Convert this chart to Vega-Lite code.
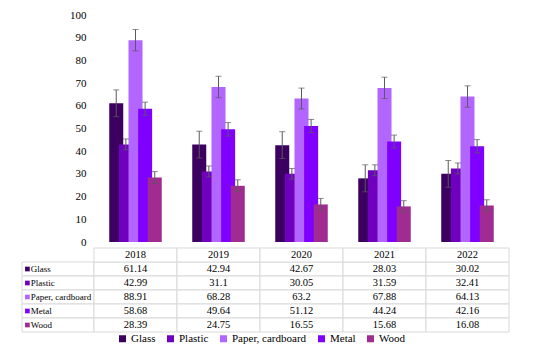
{
  "$schema": "https://vega.github.io/schema/vega-lite/v6.json",
  "padding": {"left": 21, "top": 9, "right": 5, "bottom": 5},
  "background": "white",
  "config": {
    "view": {"stroke": null},
    "font": "Times New Roman, Liberation Serif, serif",
    "legend": {"labelFont": "Times New Roman, Liberation Serif, serif"},
    "axis": {"labelFont": "Times New Roman, Liberation Serif, serif"},
    "text": {"font": "Times New Roman, Liberation Serif, serif"}
  },
  "datasets": {
    "main": [
      {"year": "2018", "material": "Glass", "value": 61.14, "lo": 55.2, "hi": 67.0},
      {"year": "2018", "material": "Plastic", "value": 42.99, "lo": 40.6, "hi": 45.4},
      {"year": "2018", "material": "Paper, cardboard", "value": 88.91, "lo": 84.2, "hi": 93.6},
      {"year": "2018", "material": "Metal", "value": 58.68, "lo": 55.8, "hi": 61.6},
      {"year": "2018", "material": "Wood", "value": 28.39, "lo": 25.8, "hi": 31.0},
      {"year": "2019", "material": "Glass", "value": 42.94, "lo": 37.0, "hi": 48.8},
      {"year": "2019", "material": "Plastic", "value": 31.1, "lo": 28.7, "hi": 33.5},
      {"year": "2019", "material": "Paper, cardboard", "value": 68.28, "lo": 63.6, "hi": 73.0},
      {"year": "2019", "material": "Metal", "value": 49.64, "lo": 46.7, "hi": 52.6},
      {"year": "2019", "material": "Wood", "value": 24.75, "lo": 22.2, "hi": 27.4},
      {"year": "2020", "material": "Glass", "value": 42.67, "lo": 36.8, "hi": 48.6},
      {"year": "2020", "material": "Plastic", "value": 30.05, "lo": 27.7, "hi": 32.4},
      {"year": "2020", "material": "Paper, cardboard", "value": 63.2, "lo": 58.6, "hi": 67.8},
      {"year": "2020", "material": "Metal", "value": 51.12, "lo": 48.2, "hi": 54.0},
      {"year": "2020", "material": "Wood", "value": 16.55, "lo": 13.9, "hi": 19.2},
      {"year": "2021", "material": "Glass", "value": 28.03, "lo": 22.1, "hi": 34.0},
      {"year": "2021", "material": "Plastic", "value": 31.59, "lo": 29.2, "hi": 34.0},
      {"year": "2021", "material": "Paper, cardboard", "value": 67.88, "lo": 63.2, "hi": 72.6},
      {"year": "2021", "material": "Metal", "value": 44.24, "lo": 41.4, "hi": 47.1},
      {"year": "2021", "material": "Wood", "value": 15.68, "lo": 13.2, "hi": 18.2},
      {"year": "2022", "material": "Glass", "value": 30.02, "lo": 24.1, "hi": 35.9},
      {"year": "2022", "material": "Plastic", "value": 32.41, "lo": 30.0, "hi": 34.8},
      {"year": "2022", "material": "Paper, cardboard", "value": 64.13, "lo": 59.4, "hi": 68.8},
      {"year": "2022", "material": "Metal", "value": 42.16, "lo": 39.3, "hi": 45.1},
      {"year": "2022", "material": "Wood", "value": 16.08, "lo": 13.6, "hi": 18.6}
    ]
  },
  "vconcat": [
    {
      "hconcat": [
        {
          "width": 72,
          "height": 227,
          "data": {"values": []},
          "mark": {"type": "point"},
          "encoding": {}
        },
        {
          "width": 415,
          "height": 227,
          "data": {"name": "main"},
          "encoding": {
            "x": {"field": "year", "type": "nominal", "axis": null,
                  "scale": {"paddingInner": 0.42, "paddingOuter": 0.21}},
            "xOffset": {"field": "material", "type": "nominal",
                        "sort": ["Glass", "Plastic", "Paper, cardboard", "Metal", "Wood"],
                        "scale": {"paddingInner": 0, "paddingOuter": 0}}
          },
          "layer": [
            {
              "mark": {"type": "bar", "width": 14},
              "encoding": {
                "y": {"field": "value", "type": "quantitative",
                      "scale": {"domain": [0, 100], "nice": false},
                      "axis": {"title": null, "values": [0, 10, 20, 30, 40, 50, 60, 70, 80, 90, 100],
                               "domain": false, "ticks": false, "grid": false, "labelOverlap": false,
                               "labelFontSize": 11, "labelColor": "#000", "labelPadding": 8}},
                "color": {"field": "material", "type": "nominal",
                          "scale": {"domain": ["Glass", "Plastic", "Paper, cardboard", "Metal", "Wood"],
                                    "range": ["#3c0060", "#6e00be", "#b266ff", "#8000ff", "#a02c92"]},
                          "legend": {"title": null, "orient": "none", "direction": "horizontal",
                                     "legendX": 95, "legendY": 318,
                                     "symbolType": "square", "symbolSize": 49,
                                     "symbolStrokeWidth": 0, "symbolOpacity": 1,
                                     "labelFontSize": 11, "labelColor": "#000",
                                     "columnPadding": 9, "labelOffset": 3}}
              }
            },
            {
              "mark": {"type": "rule", "color": "#5a5a5a", "strokeWidth": 1},
              "encoding": {
                "y": {"field": "lo", "type": "quantitative",
                      "axis": {"title": null, "values": [0, 10, 20, 30, 40, 50, 60, 70, 80, 90, 100],
                               "domain": false, "ticks": false, "grid": false, "labelOverlap": false,
                               "labelFontSize": 11, "labelColor": "#000", "labelPadding": 8}},
                "y2": {"field": "hi"}
              }
            },
            {
              "mark": {"type": "tick", "orient": "horizontal", "size": 6, "thickness": 1, "color": "#5a5a5a"},
              "encoding": {"y": {"field": "lo", "type": "quantitative",
                      "axis": {"title": null, "values": [0, 10, 20, 30, 40, 50, 60, 70, 80, 90, 100],
                               "domain": false, "ticks": false, "grid": false, "labelOverlap": false,
                               "labelFontSize": 11, "labelColor": "#000", "labelPadding": 8}}}
            },
            {
              "mark": {"type": "tick", "orient": "horizontal", "size": 6, "thickness": 1, "color": "#5a5a5a"},
              "encoding": {"y": {"field": "hi", "type": "quantitative",
                      "axis": {"title": null, "values": [0, 10, 20, 30, 40, 50, 60, 70, 80, 90, 100],
                               "domain": false, "ticks": false, "grid": false, "labelOverlap": false,
                               "labelFontSize": 11, "labelColor": "#000", "labelPadding": 8}}}
            }
          ]
        }
      ],
      "spacing": 0,
      "bounds": "flush",
      "resolve": {"scale": {"x": "independent", "y": "independent"}}
    },
    {
      "hconcat": [
        {
          "width": 72,
          "height": 84,
          "data": {"name": "main"},
          "transform": [{"filter": "datum.year == '2018'"}],
          "encoding": {
            "y": {"field": "material", "type": "nominal", "axis": null,
                  "scale": {"domain": ["Year", "Glass", "Plastic", "Paper, cardboard", "Metal", "Wood"],
                            "paddingInner": 0, "paddingOuter": 0}}
          },
          "layer": [
            {
              "mark": {"type": "rect", "fill": "white", "stroke": "#d9d9d9", "strokeWidth": 1},
              "encoding": {
                "x": {"datum": 0, "type": "quantitative", "scale": {"domain": [0, 1]}, "axis": null},
                "x2": {"datum": 1}
              }
            },
            {
              "mark": {"type": "point", "shape": "square", "filled": true, "size": 22, "opacity": 1},
              "encoding": {
                "x": {"datum": 0.075, "type": "quantitative"},
                "color": {"field": "material", "type": "nominal", "legend": null}
              }
            },
            {
              "mark": {"type": "text", "align": "left", "baseline": "middle", "fontSize": 9, "color": "#000"},
              "encoding": {
                "x": {"datum": 0.12, "type": "quantitative"},
                "text": {"field": "material"}
              }
            }
          ]
        },
        {
          "width": 415,
          "height": 84,
          "data": {"name": "main"},
          "encoding": {
            "x": {"field": "year", "type": "nominal", "axis": null,
                  "scale": {"paddingInner": 0, "paddingOuter": 0}}
          },
          "layer": [
            {
              "mark": {"type": "rect", "fill": "white", "stroke": "#d9d9d9", "strokeWidth": 1},
              "encoding": {
                "y": {"field": "material", "type": "nominal", "axis": null,
                      "scale": {"domain": ["Year", "Glass", "Plastic", "Paper, cardboard", "Metal", "Wood"],
                                "paddingInner": 0, "paddingOuter": 0}}
              }
            },
            {
              "transform": [{"filter": "datum.material == 'Glass'"}],
              "mark": {"type": "rect", "fill": "white", "stroke": "#d9d9d9", "strokeWidth": 1},
              "encoding": {"y": {"datum": "Year", "type": "nominal"}}
            },
            {
              "transform": [{"filter": "datum.material == 'Glass'"}],
              "mark": {"type": "text", "fontSize": 10.5, "color": "#000", "baseline": "middle"},
              "encoding": {
                "y": {"datum": "Year", "type": "nominal"},
                "text": {"field": "year"}
              }
            },
            {
              "mark": {"type": "text", "fontSize": 10.5, "color": "#000", "baseline": "middle"},
              "encoding": {
                "y": {"field": "material", "type": "nominal"},
                "text": {"field": "value", "type": "quantitative", "format": ""}
              }
            }
          ]
        }
      ],
      "spacing": 0,
      "bounds": "flush",
      "resolve": {"scale": {"x": "independent", "y": "independent"}}
    }
  ],
  "spacing": 0,
  "bounds": "full",
  "resolve": {"scale": {"color": "shared", "x": "independent", "y": "independent"}}
}
